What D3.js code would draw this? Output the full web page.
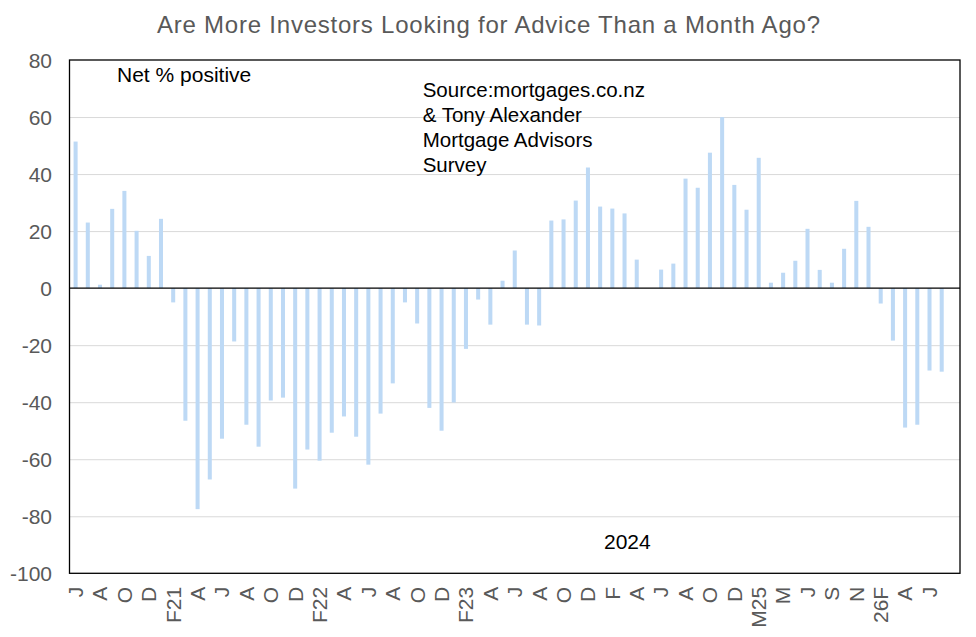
<!DOCTYPE html>
<html>
<head>
<meta charset="utf-8">
<script src="https://cdn.jsdelivr.net/npm/d3@7"></script>
<style>
  html, body { margin: 0; padding: 0; background: #fff; }
  svg { display: block; font-family: "Liberation Sans", Arial, Helvetica, sans-serif; }
</style>
</head>
<body>
<svg id="chart" width="976" height="637"></svg>
<script>
// ---- data ----
const months = [
  "Jun20","Jul20","Aug20","Sep20","Oct20","Nov20","Dec20","Jan21","Feb21","Mar21",
  "Apr21","May21","Jun21","Jul21","Aug21","Sep21","Oct21","Nov21","Dec21","Jan22",
  "Feb22","Mar22","Apr22","May22","Jun22","Jul22","Aug22","Sep22","Oct22","Nov22",
  "Dec22","Jan23","Feb23","Mar23","Apr23","May23","Jun23","Jul23","Aug23","Sep23",
  "Oct23","Nov23","Dec23","Jan24","Feb24","Mar24","Apr24","May24","Jun24","Jul24",
  "Aug24","Sep24","Oct24","Nov24","Dec24","Feb25","Mar25","Apr25","May25","Jun25",
  "Jul25","Aug25","Sep25","Oct25","Nov25","Dec25","Feb26","Mar26","Apr26","May26",
  "Jun26","Jul26","Aug26"
];
const netPositive = [
  51.4, 23, 1.2, 27.8, 34.1, 20.1, 11.3, 24.3, -5, -46.5,
  -77.5, -67.1, -52.8, -18.7, -47.9, -55.6, -39.4, -38.4, -70.3, -56.6,
  -60.5, -50.7, -45, -52.1, -61.9, -44, -33.4, -5, -12.4, -42,
  -50, -40.1, -21.3, -4, -12.8, 2.6, 13.2, -12.8, -13.1, 23.7,
  24.1, 30.7, 42.3, 28.6, 27.9, 26.2, 10, 0, 6.5, 8.6,
  38.4, 35.2, 47.5, 60, 36.2, 27.5, 45.7, 1.9, 5.4, 9.6,
  20.8, 6.4, 1.9, 13.8, 30.6, 21.5, -5.4, -18.4, -48.9, -47.9,
  -28.9, -29.3, null
];
const tickLabels = [
  "J","A","O","D","F21","A","J","A","O","D","F22","A","J","A","O","D","F23","A",
  "J","A","O","D","F","A","J","A","O","D","M25","M","J","S","N","26F","A","J"
];
const yTicks = [-100, -80, -60, -40, -20, 0, 20, 40, 60, 80];
const titleText = "Are More Investors Looking for Advice Than a Month Ago?";
const noteNet = "Net % positive";
const noteSource = ["Source:mortgages.co.nz", "& Tony Alexander", "Mortgage Advisors", "Survey"];
const noteYear = "2024";

// ---- layout ----
const svg = d3.select("#chart");
const L = 69.5, R = 960, T = 60, B = 573.3;
const grey = "#595959";

const x = d3.scaleBand().domain(months).range([L, R]).paddingInner(0.67).paddingOuter(0.335);
const y = d3.scaleLinear().domain([-100, 80]).range([B, T]);

// gridlines + y labels
const yAxis = svg.append("g").attr("transform", `translate(${L},0)`)
  .call(d3.axisLeft(y).tickValues(yTicks).tickSize(-(R - L)).tickPadding(17.5).tickFormat(d => String(d)));
yAxis.select(".domain").remove();
yAxis.selectAll("line").attr("stroke", "#d9d9d9").attr("stroke-width", 1)
  .attr("display", d => (d === -100 || d === 80 || d === 0) ? "none" : null);
yAxis.selectAll("text").attr("fill", grey).style("font-size", "21px").attr("dy", "0.35em");

// bars
svg.append("g").selectAll("rect")
  .data(months.map((m, i) => ({ m, v: netPositive[i] })).filter(d => d.v !== null))
  .join("rect")
  .attr("x", d => x(d.m))
  .attr("width", x.bandwidth())
  .attr("y", d => y(Math.max(0, d.v)))
  .attr("height", d => Math.abs(y(d.v) - y(0)))
  .attr("fill", "#bdd9f5");

// zero line
svg.append("line").attr("x1", L).attr("x2", R).attr("y1", y(0)).attr("y2", y(0))
  .attr("stroke", "#000").attr("stroke-width", 1.2);

// plot border
svg.append("rect").attr("x", L).attr("y", T).attr("width", R - L).attr("height", B - T)
  .attr("fill", "none").attr("stroke", "#000").attr("stroke-width", 1.3);

// x axis labels
const labelMonths = months.filter((m, i) => i % 2 === 0 && i / 2 < tickLabels.length);
const xAxis = svg.append("g").attr("transform", `translate(0,${B})`)
  .call(d3.axisBottom(x).tickValues(labelMonths).tickSize(0)
    .tickFormat(m => tickLabels[months.indexOf(m) / 2]));
xAxis.select(".domain").remove();
xAxis.selectAll("text")
  .attr("fill", grey).style("font-size", "21px")
  .attr("y", 0).attr("x", -13.5).attr("dy", "0.35em")
  .attr("transform", "rotate(-90)")
  .style("text-anchor", "end");

// title
svg.append("text").attr("x", 488.5).attr("y", 32.7).attr("text-anchor", "middle")
  .attr("fill", grey).style("font-size", "24px")
  .attr("textLength", 663).attr("lengthAdjust", "spacing")
  .text(titleText);

// annotations
svg.append("text").attr("x", 117).attr("y", 82).style("font-size", "21px").attr("fill", "#000").text(noteNet);
svg.append("g").selectAll("text").data(noteSource).join("text")
  .attr("x", 422.7).attr("y", (d, i) => 96.7 + i * 25)
  .style("font-size", "20.5px").attr("fill", "#000").text(d => d);
svg.append("text").attr("x", 604).attr("y", 549.3).style("font-size", "21px").attr("fill", "#000").text(noteYear);
</script>
</body>
</html>
